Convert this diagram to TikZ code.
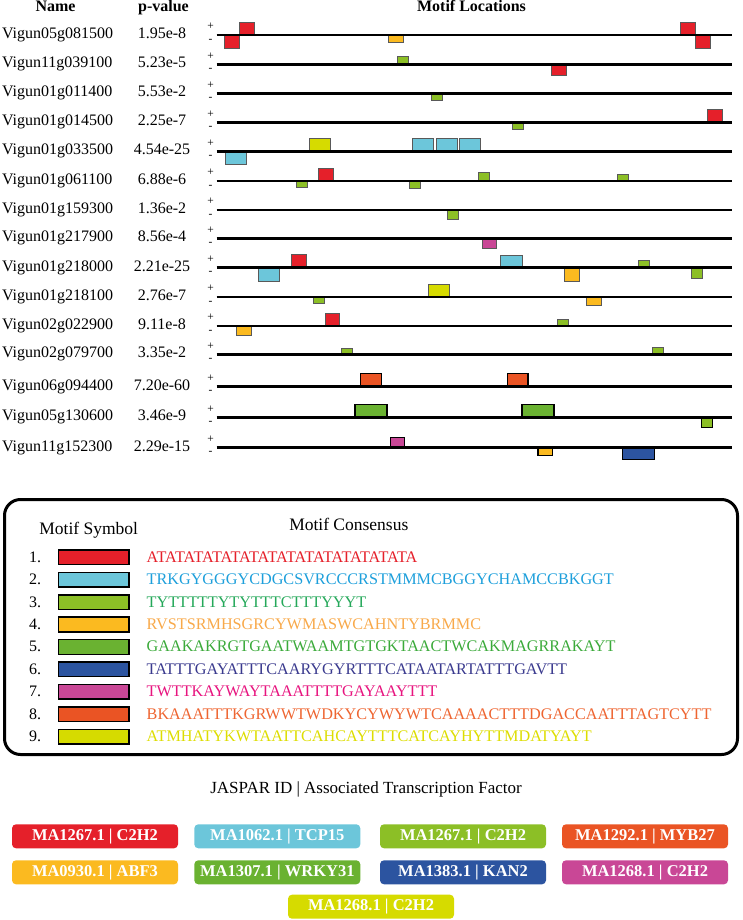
\documentclass[tikz,border=0pt]{standalone}
\usepackage{fontspec}
\setmainfont{Liberation Serif}
\newcommand{\myfs}[1]{\fontsize{#1}{#1}\selectfont}
\definecolor{m1}{HTML}{E5202A}
\definecolor{m2}{HTML}{6CC6DA}
\definecolor{m3}{HTML}{8CBF26}
\definecolor{m4}{HTML}{FBBA20}
\definecolor{m5}{HTML}{6AB231}
\definecolor{m6}{HTML}{2C54A0}
\definecolor{m7}{HTML}{C94796}
\definecolor{m8}{HTML}{EA5424}
\definecolor{m9}{HTML}{D6DB00}
\definecolor{t1}{HTML}{E5202A}
\definecolor{t2}{HTML}{1D9FDB}
\definecolor{t3}{HTML}{25A85A}
\definecolor{t4}{HTML}{F8A94A}
\definecolor{t5}{HTML}{3BAA3A}
\definecolor{t6}{HTML}{3A3A8E}
\definecolor{t7}{HTML}{E7157F}
\definecolor{t8}{HTML}{EE6531}
\definecolor{t9}{HTML}{DDDD00}
\begin{document}
\begin{tikzpicture}[x=1pt,y=-1pt,
  txt/.style={inner sep=0pt, outer sep=0pt},
  head/.style={txt, font=\myfs{16}\bfseries, anchor=base},
  rowline/.style={line width=2.6pt, black},
  mbox/.style={draw=black!65, line width=0.8pt},
  mboxd/.style={draw=black, line width=1.1pt},
  swatch/.style={draw=black, line width=1.5pt},
  badge/.style={txt, rounded corners=4pt, minimum width=166, minimum height=24, text=white, font=\myfs{16.5}\bfseries}]
\useasboundingbox (0,0) rectangle (742,920);

% headers
\node[head] (hname) at (55.5,12) {Name};
\node[head] (hpval) at (163.5,12) {p-value};
\node[head] (hloc) at (471.5,12) {Motif Locations};

% motif boxes (drawn before lines)
\foreach \a/\b/\c/\d/\col in {
 239/22.3/254/35/m1, 224/35/239/48.7/m1, 388/35/403/42.7/m4, 680.7/22.3/695.7/35/m1, 695.7/35/710.7/48.7/m1,
 397.7/56.7/408.7/64.3/m3, 551.3/64.3/566.7/75.7/m1,
 431.3/93.6/442.7/100.7/m3,
 512.3/122.7/523.3/129.3/m3, 707/109.3/722/122.7/m1,
 309.3/138.3/330.3/151.7/m9, 225.3/151.7/246.7/164.7/m2, 412.3/138.3/433.7/151.7/m2, 436/138.3/457.3/151.7/m2, 459/138.3/480.7/151.7/m2,
 318.3/168.3/333.3/181/m1, 296.3/181/307.3/187.7/m3, 409/181/420.3/188/m3, 478.3/172.3/489.3/181/m3, 617.3/174.3/628.3/181/m3,
 447.3/210/458.3/219.3/m3,
 482.3/238.5/496.3/248.7/m7,
 291/254.7/306/267.7/m1, 258/267.7/279.3/281.3/m2, 500.7/255/522/267.7/m2, 564.3/267.7/579.3/281/m4, 638.3/260.3/649.3/267.7/m3, 691.3/267.7/702.3/278.3/m3,
 313.3/297/324.3/303.7/m3, 428.3/284/449.7/297/m9, 586.3/297/601.3/305.3/m4,
 325/313/339.7/326/m1, 236.3/326/251.3/335.3/m4, 557/319.3/568/326/m3,
 341.3/348/352.3/354.3/m3, 652.3/347.3/663.3/354.3/m3}
 \draw[mbox, fill=\col] (\a,\b) rectangle (\c,\d);
\foreach \a/\b/\c/\d/\col in {
 360.3/373.7/381.7/386.7/m8, 507.3/373.7/528/386.7/m8,
 355/404.7/387/417.3/m5, 522/404.7/554/417.3/m5, 701.7/417.3/712.3/427.3/m3,
 390.7/437.3/404.7/447.7/m7, 538/447.7/552.7/455.7/m4, 622.3/447.7/654.7/459.3/m6}
 \draw[mboxd, fill=\col] (\a,\b) rectangle (\c,\d);

% rows
\foreach \n/\p/\y [count=\i] in {
 Vigun05g081500/1.95e-8/35, Vigun11g039100/5.23e-5/64.3, Vigun01g011400/5.53e-2/93.6,
 Vigun01g014500/2.25e-7/122.7, Vigun01g033500/4.54e-25/151.7, Vigun01g061100/6.88e-6/181,
 Vigun01g159300/1.36e-2/210, Vigun01g217900/8.56e-4/238.5, Vigun01g218000/2.21e-25/267.7,
 Vigun01g218100/2.76e-7/297, Vigun02g022900/9.11e-8/326, Vigun02g079700/3.35e-2/354.3,
 Vigun06g094400/7.20e-60/386.7, Vigun05g130600/3.46e-9/417.3, Vigun11g152300/2.29e-15/447.7}
{
 \node[txt, anchor=base west, font=\myfs{16}] (name\i) at (2,\y+3.3) {\n};
 \node[txt, anchor=base, font=\myfs{16}] (pval\i) at (162,\y+3.3) {\p};
 \node[txt, font=\myfs{11.5}] (plus\i) at (210.5,\y-8.5) {+};
 \node[txt, font=\myfs{11.5}] (minus\i) at (210.5,\y+5.5) {-};
 \draw[rowline] (216.7,\y) coordinate (ls\i) -- (732,\y) coordinate (le\i);
}

% legend box
\draw[line width=3pt, rounded corners=16pt] (4.5,499.5) rectangle (737.5,754.5);
\node[txt, anchor=base, font=\myfs{17.5}] (lsym) at (88.7,534.5) {Motif Symbol};
\node[txt, anchor=base, font=\myfs{17.5}] (lcons) at (348.8,530.5) {Motif Consensus};
\foreach \s/\col [count=\i] in {
 ATATATATATATATATATATATATATATA/1,
 TRKGYGGGYCDGCSVRCCCRSTMMMCBGGYCHAMCCBKGGT/2,
 TYTTTTTYTYTTTCTTTYYYT/3,
 RVSTSRMHSGRCYWMASWCAHNTYBRMMC/4,
 GAAKAKRGTGAATWAAMTGTGKTAACTWCAKMAGRRAKAYT/5,
 TATTTGAYATTTCAARYGYRTTTCATAATARTATTTGAVTT/6,
 TWTTKAYWAYTAAATTTTGAYAAYTTT/7,
 BKAAATTTKGRWWTWDKYCYWYWTCAAAACTTTDGACCAATTTAGTCYTT/8,
 ATMHATYKWTAATTCAHCAYTTTCATCAYHYTTMDATYAYT/9}
{
 \pgfmathsetmacro{\cy}{557.2+22.44*(\i-1)}
 \node[txt, anchor=base east, font=\myfs{16}] (num\i) at (41,\cy+5) {\i.};
 \draw[swatch, fill=m\col] (58.7,\cy-7.3) rectangle (129,\cy+7.3);
 \node[txt, anchor=base west, font=\myfs{16.2}, text=t\col] (seq\i) at (146.7,\cy+5) {\s};
}

% JASPAR legend
\node[txt, anchor=base, font=\myfs{17}] (jasp) at (366,793) {JASPAR ID | Associated Transcription Factor};
\node[badge, fill=m1] (b1) at (95,836.3) {MA1267.1 | C2H2};
\node[badge, fill=m2] (b2) at (277.3,836.3) {MA1062.1 | TCP15};
\node[badge, fill=m3] (b3) at (463,836.3) {MA1267.1 | C2H2};
\node[badge, fill=m8] (b4) at (645,836.3) {MA1292.1 | MYB27};
\node[badge, fill=m4] (b5) at (95,872.3) {MA0930.1 | ABF3};
\node[badge, fill=m5] (b6) at (277.3,872.3) {MA1307.1 | WRKY31};
\node[badge, fill=m6] (b7) at (463,872.3) {MA1383.1 | KAN2};
\node[badge, fill=m7] (b8) at (645,872.3) {MA1268.1 | C2H2};
\node[badge, fill=m9] (b9) at (371,906.7) {MA1268.1 | C2H2};
\end{tikzpicture}
\end{document}
